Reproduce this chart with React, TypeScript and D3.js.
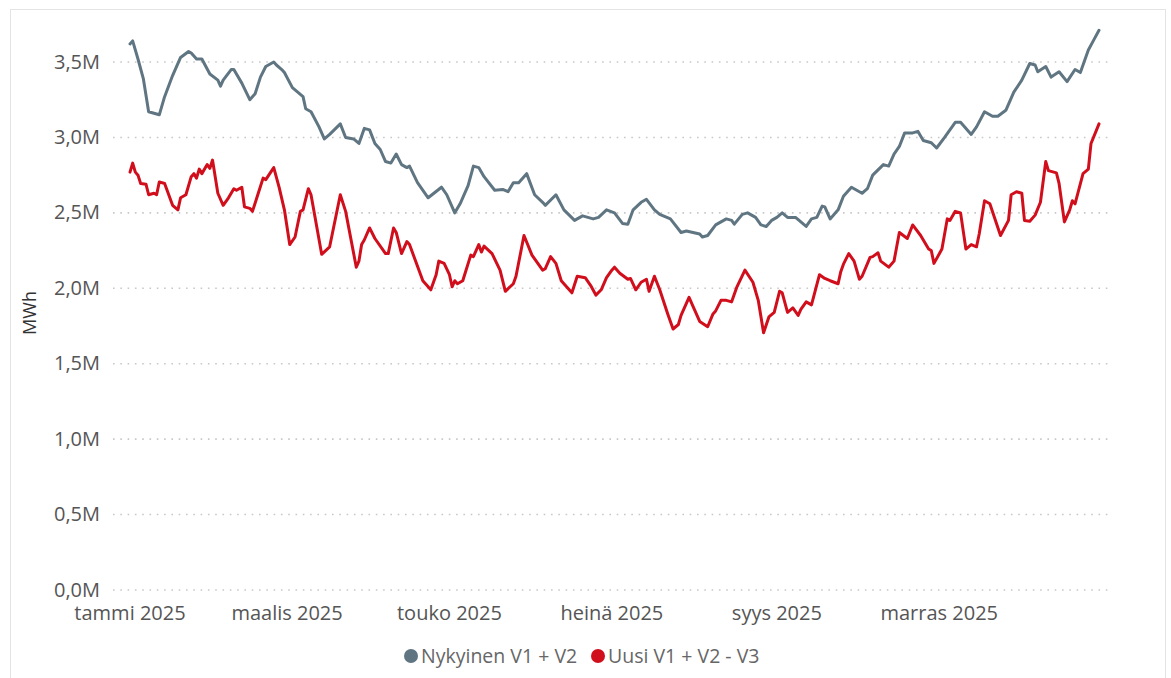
import { useEffect, useRef } from 'react';
import * as d3 from 'd3';

// day of year 2025 (0 = 1.1.) and value in millions MWh
const nykyinen: [number, number][] = [
  [0, 3.62], [1, 3.64], [3, 3.52], [5, 3.39], [7, 3.17], [9, 3.16], [11, 3.15], [13, 3.27],
  [16, 3.41], [19, 3.53], [22, 3.57], [23, 3.56], [25, 3.52], [27, 3.52], [30, 3.42], [33, 3.38],
  [34, 3.34], [35, 3.38], [38, 3.45], [39, 3.45], [42, 3.36], [45, 3.25], [47, 3.29], [49, 3.40],
  [51, 3.47], [54, 3.50], [55, 3.48], [57, 3.45], [58, 3.43], [61, 3.33], [65, 3.27], [66, 3.19],
  [68, 3.17], [71, 3.07], [73, 2.99], [75, 3.02], [79, 3.09], [81, 3.00], [84, 2.99], [86, 2.96],
  [88, 3.06], [90, 3.05], [92, 2.96], [94, 2.92], [96, 2.84], [98, 2.83], [100, 2.89], [102, 2.82],
  [104, 2.80], [105, 2.81], [108, 2.70], [112, 2.60], [117, 2.67], [119, 2.62], [122, 2.50], [124, 2.56],
  [127, 2.68], [129, 2.81], [131, 2.80], [133, 2.74], [137, 2.65], [140, 2.655], [142, 2.64], [144, 2.70],
  [146, 2.70], [149, 2.76], [152, 2.62], [155, 2.57], [156, 2.55], [160, 2.62], [163, 2.52], [167, 2.45],
  [170, 2.48], [174, 2.46], [176, 2.47], [179, 2.52], [182, 2.50], [185, 2.43], [187, 2.425], [189, 2.52],
  [192, 2.57], [194, 2.59], [197, 2.52], [199, 2.49], [203, 2.46], [207, 2.37], [209, 2.38], [214, 2.36],
  [215, 2.34], [217, 2.35], [220, 2.42], [224, 2.46], [226, 2.45], [227, 2.425], [230, 2.49], [232, 2.50],
  [235, 2.47], [237, 2.42], [239, 2.41], [241, 2.45], [243, 2.47], [245, 2.50], [247, 2.47], [250, 2.47],
  [254, 2.41], [256, 2.46], [258, 2.47], [260, 2.545], [261, 2.54], [263, 2.46], [266, 2.52], [268, 2.61],
  [271, 2.67], [275, 2.63], [277, 2.66], [279, 2.75], [283, 2.82], [285, 2.81], [287, 2.89], [289, 2.94],
  [291, 3.03], [294, 3.03], [296, 3.04], [298, 2.98], [301, 2.965], [303, 2.93], [306, 3.00], [310, 3.10],
  [312, 3.10], [316, 3.02], [318, 3.07], [321, 3.17], [324, 3.14], [326, 3.14], [329, 3.18], [332, 3.30],
  [335, 3.38], [338, 3.49], [340, 3.48], [341, 3.435], [344, 3.47], [346, 3.40], [349, 3.435], [352, 3.37],
  [355, 3.45], [357, 3.43], [360, 3.58], [362, 3.645], [364, 3.71],
];

const uusi: [number, number][] = [
  [0, 2.77], [1, 2.83], [2, 2.77], [3, 2.75], [4, 2.695], [6, 2.69], [7, 2.62], [9, 2.63],
  [10, 2.62], [11, 2.705], [13, 2.695], [16, 2.55], [18, 2.52], [19, 2.60], [21, 2.62], [23, 2.74],
  [24, 2.76], [25, 2.73], [26, 2.79], [27, 2.76], [29, 2.82], [30, 2.795], [31, 2.85], [33, 2.63],
  [35, 2.55], [37, 2.60], [39, 2.66], [40, 2.65], [42, 2.67], [43, 2.54], [45, 2.53], [46, 2.51],
  [48, 2.62], [50, 2.73], [51, 2.72], [54, 2.80], [56, 2.67], [58, 2.52], [60, 2.29], [62, 2.34],
  [64, 2.51], [65, 2.52], [67, 2.66], [68, 2.62], [72, 2.225], [75, 2.275], [79, 2.62], [81, 2.51],
  [85, 2.14], [86, 2.18], [87, 2.29], [88, 2.32], [90, 2.40], [92, 2.33], [96, 2.23], [97, 2.23],
  [99, 2.40], [100, 2.37], [102, 2.23], [104, 2.31], [105, 2.29], [110, 2.05], [113, 1.99], [115, 2.09],
  [116, 2.18], [118, 2.165], [120, 2.09], [121, 2.01], [122, 2.05], [123, 2.03], [125, 2.05], [128, 2.22],
  [129, 2.21], [131, 2.29], [132, 2.24], [133, 2.28], [136, 2.23], [139, 2.12], [141, 1.98], [144, 2.03],
  [145, 2.08], [148, 2.35], [151, 2.22], [155, 2.12], [156, 2.13], [158, 2.21], [160, 2.165], [162, 2.05],
  [164, 2.01], [166, 1.97], [168, 2.08], [171, 2.07], [173, 2.02], [175, 1.955], [177, 1.99], [179, 2.07],
  [181, 2.12], [182, 2.14], [184, 2.10], [187, 2.06], [188, 2.065], [190, 1.99], [192, 2.04], [194, 2.06],
  [195, 1.98], [197, 2.08], [199, 1.99], [202, 1.83], [204, 1.73], [206, 1.76], [207, 1.82], [210, 1.94],
  [212, 1.86], [214, 1.78], [217, 1.745], [219, 1.83], [220, 1.85], [222, 1.92], [224, 1.92], [226, 1.91],
  [228, 2.01], [231, 2.12], [234, 2.04], [236, 1.92], [238, 1.705], [240, 1.81], [242, 1.84], [244, 1.98],
  [245, 1.97], [247, 1.84], [249, 1.87], [251, 1.82], [252, 1.86], [254, 1.91], [256, 1.89], [259, 2.09],
  [261, 2.065], [263, 2.05], [266, 2.03], [267, 2.11], [268, 2.16], [270, 2.23], [272, 2.18], [274, 2.06],
  [275, 2.08], [278, 2.205], [279, 2.21], [281, 2.235], [282, 2.18], [285, 2.14], [287, 2.18], [289, 2.37],
  [292, 2.33], [294, 2.42], [297, 2.35], [300, 2.26], [301, 2.25], [302, 2.165], [305, 2.26], [307, 2.46],
  [308, 2.45], [310, 2.51], [312, 2.50], [314, 2.26], [316, 2.29], [318, 2.275], [319, 2.36], [321, 2.58],
  [323, 2.56], [327, 2.35], [330, 2.45], [331, 2.62], [333, 2.64], [335, 2.63], [336, 2.45], [338, 2.445],
  [340, 2.485], [342, 2.57], [344, 2.84], [345, 2.78], [348, 2.765], [349, 2.695], [351, 2.44], [353, 2.52],
  [354, 2.58], [355, 2.56], [358, 2.76], [360, 2.79], [361, 2.96], [364, 3.09],
];

const monthLabels = ['tammi', 'helmi', 'maalis', 'huhti', 'touko', 'kesä', 'heinä', 'elo', 'syys', 'loka', 'marras', 'joulu'];
const yTicks = [0, 0.5e6, 1e6, 1.5e6, 2e6, 2.5e6, 3e6, 3.5e6];
const seriesNames = ['Nykyinen V1 + V2', 'Uusi V1 + V2 - V3'];

const COLORS = {
  gray: '#5f7582',
  red: '#d10f1c',
  grid: '#c8c8c8',
  text: '#555555',
  legend: '#666666',
  border: '#e4e4e4',
};

const FONT = '"Open Sans", "Noto Sans", sans-serif';

export default function App() {
  const svgRef = useRef<SVGSVGElement>(null);
  const width = 1171;
  const height = 678;

  useEffect(() => {
    if (!svgRef.current) return;
    const svg = d3.select(svgRef.current);
    svg.selectAll('*').remove();

    const start = new Date(2025, 0, 1);
    const toDate = (d: number) => d3.timeDay.offset(start, d);

    const x = d3.scaleTime()
      .domain([start, new Date(2025, 11, 31)])
      .range([130, 1099]);
    const y = d3.scaleLinear().domain([0, 3.5e6]).range([590, 62]);

    // frame
    svg.append('rect')
      .attr('x', 10.5).attr('y', 9.5)
      .attr('width', 1155).attr('height', 720)
      .attr('fill', 'none')
      .attr('stroke', COLORS.border);

    // grid lines
    svg.append('g')
      .selectAll('line')
      .data(yTicks)
      .join('line')
      .attr('x1', 113).attr('x2', 1110)
      .attr('y1', d => y(d)).attr('y2', d => y(d))
      .attr('stroke', COLORS.grid)
      .attr('stroke-width', 1.6)
      .attr('stroke-dasharray', '1.6,5.7');

    // y labels
    svg.append('g')
      .selectAll('text')
      .data(yTicks)
      .join('text')
      .attr('x', 100)
      .attr('y', d => y(d))
      .attr('dy', '0.33em')
      .attr('text-anchor', 'end')
      .style('font-family', FONT)
      .style('font-size', '20px')
      .style('fill', COLORS.text)
      .text(d => `${d3.format('.1f')(d / 1e6).replace('.', ',')}M`);

    // x labels
    const xTicks = x.ticks(d3.timeMonth.every(2)!);
    svg.append('g')
      .selectAll('text')
      .data(xTicks)
      .join('text')
      .attr('x', d => x(d))
      .attr('y', 620)
      .attr('text-anchor', 'middle')
      .style('font-family', FONT)
      .style('font-size', '20px')
      .style('fill', COLORS.text)
      .text(d => `${monthLabels[d.getMonth()]} ${d.getFullYear()}`);

    // axis title
    svg.append('text')
      .attr('transform', 'translate(36,313) rotate(-90)')
      .attr('text-anchor', 'middle')
      .style('font-family', FONT)
      .style('font-size', '18px')
      .style('fill', '#333')
      .text('MWh');

    const line = d3.line<[number, number]>()
      .x(d => x(toDate(d[0])))
      .y(d => y(d[1] * 1e6));

    [[nykyinen, COLORS.gray], [uusi, COLORS.red]].forEach(([data, color]) => {
      svg.append('path')
        .datum(data as [number, number][])
        .attr('d', line)
        .attr('fill', 'none')
        .attr('stroke', color as string)
        .attr('stroke-width', 3)
        .attr('stroke-linejoin', 'round')
        .attr('stroke-linecap', 'round');
    });

    // legend
    const legend = [
      { label: seriesNames[0], color: COLORS.gray, cx: 411 },
      { label: seriesNames[1], color: COLORS.red, cx: 598 },
    ];
    legend.forEach(item => {
      svg.append('circle')
        .attr('cx', item.cx).attr('cy', 656).attr('r', 7)
        .attr('fill', item.color);
      svg.append('text')
        .attr('x', item.cx + 10).attr('y', 656)
        .attr('dy', '0.35em')
        .style('font-family', FONT)
        .style('font-size', '19.5px')
        .style('fill', COLORS.legend)
        .text(item.label);
    });
  }, []);

  return (
    <svg ref={svgRef} width={width} height={height}
      style={{ position: 'absolute', left: 0, top: 0, background: '#fff' }} />
  );
}
